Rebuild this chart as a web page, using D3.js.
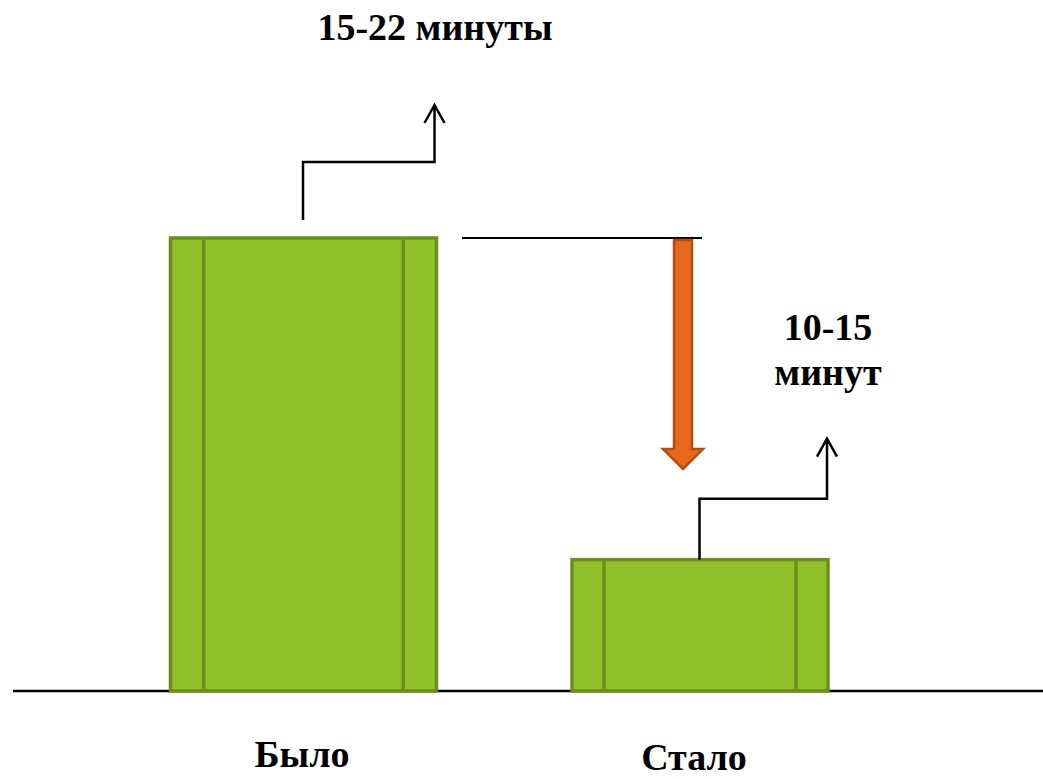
<!DOCTYPE html>
<html>
<head>
<meta charset="utf-8">
<script src="https://cdn.jsdelivr.net/npm/d3@7"></script>
<style>
  body { margin: 0; background: #fff; }
  text { font-family: "Liberation Serif", "Times New Roman", serif; font-weight: bold; fill: #000; }
</style>
</head>
<body>
<div id="canvas"></div>
<script>
// data
const categories = ["Было", "Стало"];
const values = [100, 29];          // relative bar heights (no axis in original)
const valueLabels = [["15-22 минуты"], ["10-15", "минут"]];

const width = 1043;
const height = 779;

const svg = d3.select("#canvas").append("svg")
  .attr("width", width)
  .attr("height", height);

const baseY = 691;

let x = d3.scalePoint()
  .domain(categories)
  .range([303.5, 700]);

let y = d3.scaleLinear()
  .domain([0, 100])
  .range([baseY, 238]);

const barW = [266, 256];
const green = "#92c02a";
const greenDark = "#6a8f1f";

// baseline
svg.append("line")
  .attr("x1", 13).attr("x2", width)
  .attr("y1", baseY).attr("y2", baseY)
  .attr("stroke", "#000").attr("stroke-width", 2.5);

// bars
const bars = svg.selectAll("g.bar").data(categories).enter()
  .append("g").attr("class", "bar");

bars.append("rect")
  .attr("x", (d, i) => x(d) - barW[i] / 2)
  .attr("y", (d, i) => y(values[i]))
  .attr("width", (d, i) => barW[i])
  .attr("height", (d, i) => baseY - y(values[i]))
  .attr("fill", green)
  .attr("stroke", greenDark)
  .attr("stroke-width", 3.5);

// inner vertical lines
[0.125, 0.875].forEach(f => {
  bars.append("line")
    .attr("x1", (d, i) => x(d) - barW[i] / 2 + barW[i] * f)
    .attr("x2", (d, i) => x(d) - barW[i] / 2 + barW[i] * f)
    .attr("y1", (d, i) => y(values[i]))
    .attr("y2", baseY)
    .attr("stroke", greenDark)
    .attr("stroke-width", 3.5);
});

// step arrows above bars
const stepUp = [58, 61];
const stepRise = [57, 60];
bars.append("path")
  .attr("d", (d, i) => {
    const x0 = x(d) - 0.5;
    const y0 = y(values[i]) - (i === 0 ? 18 : 0);
    const y1 = y0 - stepUp[i];
    const x1 = x(d) - barW[i] / 2 + barW[i] - (i === 0 ? 2 : 1);
    const y2 = y1 - stepRise[i];
    return `M${x0},${y0}V${y1}H${x1}V${y2}M${x1 - 10},${y2 + 18}L${x1},${y2}L${x1 + 10},${y2 + 18}`;
  })
  .attr("fill", "none")
  .attr("stroke", "#000")
  .attr("stroke-width", 2.5);

// reference line at the old level
svg.append("line")
  .attr("x1", 462).attr("x2", 702)
  .attr("y1", y(values[0])).attr("y2", y(values[0]))
  .attr("stroke", "#000").attr("stroke-width", 2);

// orange down arrow
const ax = 683, arrTop = y(values[0]) + 2, headTop = 449, tip = 469;
svg.append("path")
  .attr("d", `M${ax - 9},${arrTop}H${ax + 9}V${headTop}H${ax + 20}L${ax},${tip}L${ax - 20},${headTop}H${ax - 9}Z`)
  .attr("fill", "#e8691e")
  .attr("stroke", "#b04f10")
  .attr("stroke-width", 2.5);

// value labels
svg.append("text")
  .attr("x", 435).attr("y", 40)
  .attr("text-anchor", "middle")
  .attr("font-size", 38)
  .text(valueLabels[0][0]);

valueLabels[1].forEach((t, j) => {
  svg.append("text")
    .attr("x", 828).attr("y", 340 + j * 45)
    .attr("text-anchor", "middle")
    .attr("font-size", 38)
    .text(t);
});

// category labels
const catY = [767, 770];
svg.selectAll("text.cat").data(categories).enter()
  .append("text")
  .attr("class", "cat")
  .attr("x", (d, i) => i === 0 ? 302 : 694)
  .attr("y", (d, i) => catY[i])
  .attr("text-anchor", "middle")
  .attr("font-size", 38)
  .text(d => d);
</script>
</body>
</html>
